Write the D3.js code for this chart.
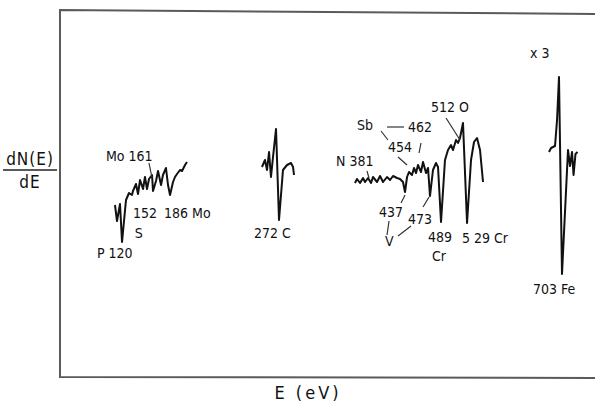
<html>
<head>
<script src="https://cdn.jsdelivr.net/npm/d3@7/dist/d3.min.js"></script>
<style>
  body { margin: 0; background: #fff; }
  text { font-family: "DejaVu Sans Condensed", "Liberation Sans Narrow", "DejaVu Sans", sans-serif; fill: #111; }
</style>
</head>
<body>
<script>
// Auger spectrum, dN(E)/dE vs E. The E axis has no ticks, so positions are
// read off the drawing on a linear axis (E ~ eV); dN/dE in arbitrary units.
var segPS = [[73.3,-8],[76,-16],[80,-7.5],[82.7,-26.5],[88,-5.5],[92,-2],[96,-3],[97.3,-1],
  [101.3,2.5],[104,-2.5],[106.7,4.5],[110.7,0],[113.3,6],[116,0],[118.7,5],[122.7,7],
  [124,-1],[128,4],[130.7,9],[134.7,2],[137.3,7],[141.3,10.5],[144,2],[146.7,-3],
  [150.7,3.5],[153.3,6],[156,7.5],[160,9.5],[162.7,9],[166.7,12],[169.3,13.5]];

var segC = [[269.3,11],[273.3,14.5],[276,9.5],[278.7,18.5],[281.3,6],[284,16],[288,30],
  [292,-15.5],[297.3,9.5],[302.7,12],[308,13],[310.7,11],[312,7]];

var segNCr = [[393.3,3],[396,5],[400,3],[404,5.5],[406.7,3.5],[410.7,5.5],[414.7,3],[417.3,6],
  [422.7,3.5],[426.7,6.5],[430.7,3.5],[436,6],[440,4.5],[444,6.5],[449.3,5.5],[453.3,5],
  [457.3,3.5],[460,-1.5],[462.7,6],[465.3,8.5],[469.3,7],[472,10.5],[474.7,8],[477.3,12],
  [481.3,8.5],[484,13.5],[488,8],[490.7,10.5],[493.3,-3.5],[497.3,9.5],[501.3,13],[504,11],
  [508,-16.5],[513.3,14.5],[517.3,19.5],[521.3,22],[524,19.5],[528,24.5],[530.7,23],
  [533.3,25.5],[537.3,33],[542.7,-17],[548,14.5],[552,23.5],[556,25.5],[560,19.5],[564,3.5]];

var segFe = [[652,18.5],[654.7,20.5],[660,21.5],[662.7,34.5],[665.3,56],[669.3,-42.5],
  [677.3,19.5],[680,11.5],[682.7,18.5],[684.7,7],[687.3,17.5],[690,18.5]];

var peakLabels = [
  {t: "Mo 161", e: 61.3, v: 16.5},
  {t: "152", e: 97.3, v: -12},
  {t: "S", e: 99.5, v: -22},
  {t: "186 Mo", e: 138.7, v: -12},
  {t: "P 120", e: 49.3, v: -32},
  {t: "272 C", e: 258.7, v: -22},
  {t: "N 381", e: 368, v: 14},
  {t: "Sb", e: 396, v: 32},
  {t: "462", e: 464, v: 31},
  {t: "454", e: 437.3, v: 21},
  {t: "512 O", e: 494.7, v: 41},
  {t: "437", e: 425.3, v: -11.5},
  {t: "V", e: 433.3, v: -26},
  {t: "473", e: 464, v: -15},
  {t: "489", e: 490.7, v: -24},
  {t: "Cr", e: 496, v: -33.5},
  {t: "5 29 Cr", e: 536, v: -24.5},
  {t: "x 3", e: 626.7, v: 68},
  {t: "703 Fe", e: 630.7, v: -50}
];

var leaders = [
  [[118.7,13],[122.7,5.5]],
  [[409.3,9],[412,5.5]],
  [[428,29],[437.3,24.5]],
  [[450.7,16],[462.7,12]],
  [[436,31],[458.7,31]],
  [[481.3,23],[478.7,18]],
  [[514.7,35.5],[533.3,24.5]],
  [[454.7,-7],[460,-3]],
  [[484,-9],[492,-4]],
  [[436,-23],[438.7,-16]],
  [[450.7,-23.5],[468,-18.5]]
];

var frame = [[713.3,87.5],[0,89.5],[0,-94],[713.3,-94.5]];

var svg = d3.select("body").append("svg").attr("width", 595).attr("height", 403);
var x = d3.scaleLinear().domain([0, 713.3]).range([60, 595]);
var y = d3.scaleLinear().domain([-94, 90]).range([377, 9]);
var line = d3.line().x(function (d) { return x(d[0]); }).y(function (d) { return y(d[1]); });

svg.append("path").attr("d", line(frame))
  .attr("fill", "none").attr("stroke", "#5a5a5a").attr("stroke-width", 2);

svg.selectAll("path.trace")
  .data([segPS, segC, segNCr, segFe])
  .enter().append("path")
  .attr("class", "trace")
  .attr("d", line)
  .attr("fill", "none")
  .attr("stroke", "#111")
  .attr("stroke-width", 2)
  .attr("stroke-linejoin", "round");

svg.selectAll("path.leader")
  .data(leaders)
  .enter().append("path")
  .attr("class", "leader")
  .attr("d", line)
  .attr("stroke", "#333")
  .attr("stroke-width", 1.2);

svg.selectAll("text.peak")
  .data(peakLabels)
  .enter().append("text")
  .attr("class", "peak")
  .attr("x", function (d) { return x(d.e); })
  .attr("y", function (d) { return y(d.v); })
  .attr("dy", "0.36em")
  .attr("font-size", 14)
  .text(function (d) { return d.t; });

// axis titles
var yt = svg.append("g").attr("transform", "translate(30,0)");
yt.append("text").attr("y", 165).attr("text-anchor", "middle")
  .attr("font-size", 17).attr("letter-spacing", 1).text("dN(E)");
yt.append("line").attr("x1", -27).attr("x2", 27).attr("y1", 170).attr("y2", 170)
  .attr("stroke", "#222").attr("stroke-width", 1.5);
yt.append("text").attr("y", 188).attr("text-anchor", "middle")
  .attr("font-size", 17).attr("letter-spacing", 1).text("dE");

svg.append("text").attr("x", 308).attr("y", 399).attr("text-anchor", "middle")
  .attr("font-size", 18).attr("letter-spacing", 3).text("E (eV)");
</script>
</body>
</html>
